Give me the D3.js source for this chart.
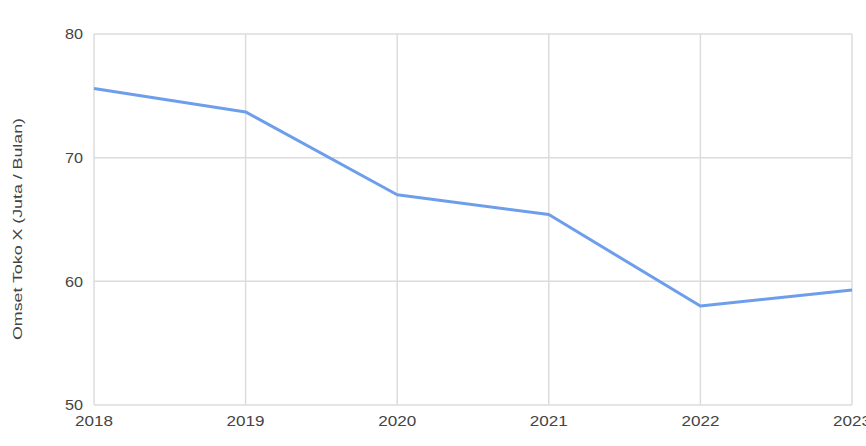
<!DOCTYPE html>
<html><head><meta charset="utf-8">
<script src="https://cdn.jsdelivr.net/npm/d3@7"></script>
<style>body{margin:0;background:#fff}svg{display:block}</style>
</head><body>
<svg id="c" width="866" height="446"></svg>
<script>
const years = [2018, 2019, 2020, 2021, 2022, 2023];
const omset = [75.6, 73.7, 67.0, 65.4, 58.0, 59.3];
const yTicks = [50, 60, 70, 80];
const yTitle = "Omset Toko X (Juta / Bulan)";

const svg = d3.select("#c");
const x = d3.scaleLinear().domain([2018, 2023]).range([94, 852]);
const y = d3.scaleLinear().domain([50, 80]).range([405, 34]);

const grid = svg.append("g");
grid.selectAll("line.h").data(yTicks).join("line")
  .attr("x1", 94).attr("x2", 852)
  .attr("y1", d => y(d)).attr("y2", d => y(d))
  .attr("stroke", "#dcdcdc").attr("stroke-width", 1.5);
grid.selectAll("line.v").data(years).join("line")
  .attr("x1", d => x(d)).attr("x2", d => x(d))
  .attr("y1", 34).attr("y2", 405)
  .attr("stroke", "#dcdcdc").attr("stroke-width", 1.5);

svg.append("g").selectAll("text").data(yTicks).join("text")
  .attr("x", 83).attr("y", d => y(d)).attr("dy", "0.35em")
  .attr("text-anchor", "end")
  .attr("font-family", "Liberation Sans, Arial, sans-serif")
  .attr("font-size", 15).attr("fill", "#444")
  .attr("textLength", 18).attr("lengthAdjust", "spacingAndGlyphs")
  .text(d => d);

svg.append("g").selectAll("text").data(years).join("text")
  .attr("x", d => x(d)).attr("y", 421).attr("dy", "0.35em")
  .attr("text-anchor", "middle")
  .attr("font-family", "Liberation Sans, Arial, sans-serif")
  .attr("font-size", 15).attr("fill", "#444")
  .attr("textLength", 38).attr("lengthAdjust", "spacingAndGlyphs")
  .text(d => d);

svg.append("text")
  .attr("transform", "translate(17,229) rotate(-90)")
  .attr("text-anchor", "middle").attr("dy", "0.35em")
  .attr("font-family", "Liberation Sans, Arial, sans-serif")
  .attr("font-size", 13).attr("fill", "#444")
  .attr("textLength", 222).attr("lengthAdjust", "spacingAndGlyphs")
  .text(yTitle);

const line = d3.line().x((d, i) => x(years[i])).y(d => y(d));
svg.append("path").datum(omset)
  .attr("d", line)
  .attr("fill", "none")
  .attr("stroke", "#6d9eeb")
  .attr("stroke-width", 3)
  .attr("stroke-linejoin", "round");
</script>
</body></html>
